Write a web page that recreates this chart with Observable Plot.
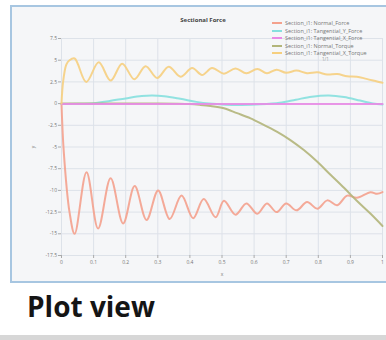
<!DOCTYPE html>
<html><head><meta charset="utf-8">
<script src="https://cdn.jsdelivr.net/npm/d3@7"></script>
<script src="https://cdn.jsdelivr.net/npm/@observablehq/plot@0.6"></script>
<style>
html,body{margin:0;padding:0;background:#fff;}
#page{position:relative;width:386px;height:340px;overflow:hidden;background:#fff;font-family:"Open Sans","Noto Sans",sans-serif;}
#frame{position:absolute;left:10px;top:5px;width:400px;height:274px;border:2px solid #a7c6e1;background:#f5f6f8;}
#chart{position:absolute;left:0;top:0;}
#title{position:absolute;left:0;width:406px;top:16px;text-align:center;font-size:6px;font-weight:bold;color:#444;line-height:8px;}
#legend{position:absolute;left:260px;top:12px;}
.row{position:absolute;left:0;height:6px;white-space:nowrap;font-size:5.5px;line-height:6px;color:#777;}
.sw{display:inline-block;width:10px;height:2px;vertical-align:middle;margin-right:3px;position:relative;top:-0.5px;}
#pager{position:absolute;font-size:4.5px;color:#999;white-space:nowrap;}
#pv{position:absolute;left:27px;top:292px;font-size:28px;line-height:28px;font-weight:bold;color:#151515;font-family:"Open Sans","Noto Sans",sans-serif;}
#bar{position:absolute;left:0;top:335px;width:386px;height:5px;background:#d7d7d7;}
</style>
</head><body>
<div id="page">
  <div id="frame"><div id="chart"></div></div>
  <div id="title">Sectional Force</div>
  <div id="legend"></div>
  <div id="pv">Plot view</div>
  <div id="bar"></div>
</div>
<script>
const seriesNames = [
  "Section_i1: Normal_Force",
  "Section_i1: Tangential_Y_Force",
  "Section_i1: Tangential_X_Force",
  "Section_i1: Normal_Torque",
  "Section_i1: Tangential_X_Torque"
];
const seriesColors = ["#f4a18d", "#86e0de", "#e88be6", "#b2b57a", "#f6cf7f"];

const xTicks = [0, 0.1, 0.2, 0.3, 0.4, 0.5, 0.6, 0.7, 0.8, 0.9, 1];
const xTickLabels = ["0", "0.1", "0.2", "0.3", "0.4", "0.5", "0.6", "0.7", "0.8", "0.9", "1"];
const yTicks = [7.5, 5, 2.5, 0, -2.5, -5, -7.5, -10, -12.5, -15, -17.5];
const yTickLabels = ["7.5", "5", "2.5", "0", "-2.5", "-5", "-7.5", "-10", "-12.5", "-15", "-17.5"];

const normalForceX = [0, 0.007, 0.025, 0.041, 0.078, 0.114, 0.153, 0.192, 0.228, 0.265, 0.301, 0.337, 0.374, 0.41, 0.443, 0.48, 0.506, 0.542, 0.576, 0.61, 0.64, 0.67, 0.70, 0.732, 0.765, 0.797, 0.828, 0.859, 0.89, 0.92, 0.963, 0.983, 1.0];
const normalForceY = [0, -5.5, -12.5, -15.0, -7.9, -14.4, -8.6, -13.8, -9.5, -13.4, -10.0, -13.3, -10.6, -13.2, -11.0, -13.1, -11.2, -12.8, -11.5, -12.7, -11.5, -12.5, -11.5, -12.3, -11.35, -12.1, -11.15, -11.7, -10.6, -10.85, -10.2, -10.4, -10.2];

const tanYForceX = [0, 0.05, 0.1, 0.15, 0.2, 0.25, 0.282, 0.32, 0.37, 0.42, 0.46, 0.51, 0.56, 0.62, 0.68, 0.73, 0.78, 0.833, 0.88, 0.93, 0.97, 1.0];
const tanYForceY = [-0.05, -0.03, 0.05, 0.3, 0.6, 0.87, 0.93, 0.85, 0.55, 0.2, 0.0, -0.12, -0.15, -0.08, 0.1, 0.45, 0.8, 0.93, 0.75, 0.35, 0.02, -0.1];

const tanXForceX = [0, 0.25, 0.5, 0.75, 1.0];
const tanXForceY = [-0.05, -0.05, -0.05, -0.05, -0.05];

const normalTorqueX = [0, 0.1, 0.2, 0.3, 0.36, 0.4, 0.43, 0.464, 0.506, 0.547, 0.589, 0.63, 0.672, 0.713, 0.755, 0.797, 0.838, 0.88, 0.92, 0.963, 1.0];
const normalTorqueY = [0, 0, 0, 0, -0.02, -0.06, -0.14, -0.27, -0.54, -1.1, -1.7, -2.45, -3.25, -4.2, -5.35, -6.7, -8.2, -9.7, -11.2, -12.7, -14.1];

const tanXTorqueX = [0, 0.005, 0.015, 0.025, 0.041, 0.077, 0.116, 0.153, 0.189, 0.227, 0.262, 0.298, 0.334, 0.371, 0.407, 0.438, 0.469, 0.506, 0.542, 0.576, 0.61, 0.64, 0.67, 0.70, 0.732, 0.765, 0.797, 0.828, 0.859, 0.89, 0.92, 0.95, 0.983, 1.0];
const tanXTorqueY = [0, 2.5, 4.5, 5.0, 5.2, 2.5, 4.75, 2.65, 4.6, 2.8, 4.3, 2.95, 4.25, 3.1, 4.1, 3.3, 4.1, 3.45, 4.05, 3.5, 4.0, 3.5, 3.9, 3.55, 3.8, 3.5, 3.6, 3.35, 3.4, 3.15, 3.1, 2.85, 2.55, 2.4];

const seriesX = [normalForceX, tanYForceX, tanXForceX, normalTorqueX, tanXTorqueX];
const seriesY = [normalForceY, tanYForceY, tanXForceY, normalTorqueY, tanXTorqueY];
const drawOrder = [0, 1, 3, 2, 4];

const lineMarks = drawOrder.map(k => {
  const data = seriesX[k].map((x, i) => ({x, y: seriesY[k][i]}));
  return Plot.line(data, {x: "x", y: "y", stroke: seriesColors[k], strokeWidth: 2, strokeOpacity: 0.9, curve: "catmull-rom"});
});

const chart = Plot.plot({
  width: 374,
  height: 274,
  marginLeft: 49,
  marginRight: 4,
  marginTop: 31,
  marginBottom: 26,
  style: {background: "transparent", fontFamily: "'Open Sans','Noto Sans',sans-serif", fontSize: "5px", color: "#777", overflow: "visible"},
  x: {domain: [0, 1]},
  y: {domain: [-17.5, 7.5]},
  marks: [
    Plot.gridX(xTicks, {stroke: "#dde2e9", strokeOpacity: 1, strokeWidth: 1}),
    Plot.gridY(yTicks, {stroke: "#dde2e9", strokeOpacity: 1, strokeWidth: 1}),
    Plot.axisX(xTicks, {tickFormat: d => xTickLabels[xTicks.indexOf(d)], tickSize: 3, tickPadding: 1.5, stroke: "#aaa", label: "x", labelAnchor: "center", labelOffset: 20, labelArrow: "none"}),
    Plot.axisY(yTicks, {tickFormat: d => yTickLabels[yTicks.indexOf(d)], tickSize: 3, tickPadding: 1.5, stroke: "#aaa", label: "y", labelAnchor: "center", labelOffset: 30, labelArrow: "none"}),
    ...lineMarks
  ]
});
document.getElementById("chart").appendChild(chart);

const legend = document.getElementById("legend");
const rowTops = [8, 15.5, 23, 30.5, 38];
seriesNames.forEach((name, i) => {
  const row = document.createElement("div");
  row.className = "row";
  row.style.top = rowTops[i] + "px";
  row.style.left = "12px";
  const sw = document.createElement("span");
  sw.className = "sw";
  sw.style.background = seriesColors[i];
  row.appendChild(sw);
  row.appendChild(document.createTextNode(name));
  legend.appendChild(row);
});
const pager = document.createElement("div");
pager.id = "pager";
pager.style.left = "62px";
pager.style.top = "44px";
pager.textContent = "1/1";
legend.appendChild(pager);
</script>
</body></html>
